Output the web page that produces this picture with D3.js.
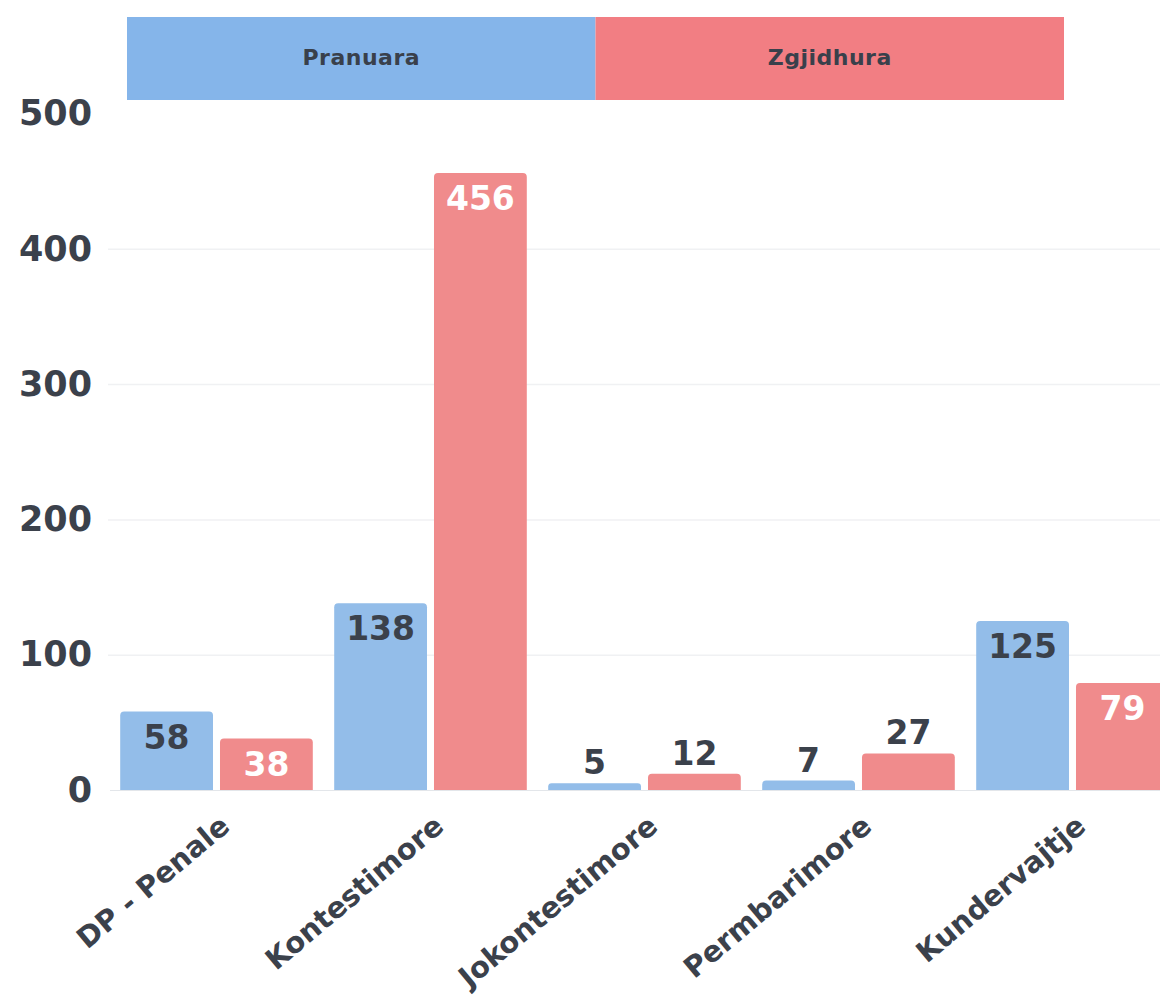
<!DOCTYPE html>
<html>
<head>
<meta charset="utf-8">
<script src="https://cdn.jsdelivr.net/npm/d3@7"></script>
<style>
  body { margin: 0; background: #fff; }
  svg { display: block; }
  text { font-family: "DejaVu Sans", sans-serif; }
</style>
</head>
<body>
<div id="chart"></div>
<script>
// data
var categories = ["DP - Penale", "Kontestimore", "Jokontestimore", "Permbarimore", "Kundervajtje"];
var seriesNames = ["Pranuara", "Zgjidhura"];
var pranuara = [58, 138, 5, 7, 125];
var zgjidhura = [38, 456, 12, 27, 79];
var yTicks = [0, 100, 200, 300, 400, 500];
var gridTicks = [100, 200, 300, 400];

var width = 1160, height = 1002;
var barColor = {Pranuara: "#93bde9", Zgjidhura: "#f08b8c"};
var legendColor = {Pranuara: "#85b5ea", Zgjidhura: "#f27e83"};
var textDark = "#3b414b";

var rows = categories.map((c, i) => ({cat: c, Pranuara: pranuara[i], Zgjidhura: zgjidhura[i]}));

var svg = d3.select("#chart").append("svg")
    .attr("width", width)
    .attr("height", height);

var y = d3.scaleLinear()
    .domain([0, 500])
    .range([790, 113.5]);

var x0 = d3.scaleBand()
    .domain(categories)
    .range([109.5, 1179.5])
    .paddingInner(0.1)
    .paddingOuter(0.05);

var x1 = d3.scaleBand()
    .domain(seriesNames)
    .range([0, x0.bandwidth()])
    .paddingInner(0.07);

// faint grid
svg.append("g")
    .attr("transform", "translate(108,0)")
    .call(d3.axisLeft(y).tickValues(gridTicks).tickSize(-(width - 108)).tickFormat(""))
    .call(g => g.select(".domain").remove())
    .call(g => g.selectAll("line").attr("stroke", "#f0f1f3").attr("stroke-width", 1.5));

// y labels
svg.append("g")
    .attr("transform", "translate(92,0)")
    .call(d3.axisLeft(y).tickValues(yTicks).tickSize(0).tickPadding(0))
    .call(g => g.select(".domain").remove())
    .call(g => g.selectAll("text")
        .attr("font-size", 35)
        .attr("font-weight", "bold")
        .attr("font-family", "DejaVu Sans, sans-serif")
        .attr("fill", textDark));

// baseline
svg.append("line")
    .attr("x1", 110).attr("x2", width)
    .attr("y1", y(0) + 0.5).attr("y2", y(0) + 0.5)
    .attr("stroke", "#e3e6ea");

// rounded-top bar path
function barPath(x, yTop, w, h) {
  var r = Math.min(4, h / 2);
  return `M${x},${yTop + h}V${yTop + r}Q${x},${yTop} ${x + r},${yTop}H${x + w - r}Q${x + w},${yTop} ${x + w},${yTop + r}V${yTop + h}Z`;
}

var groups = svg.append("g").selectAll("g")
  .data(rows)
  .join("g")
    .attr("transform", d => `translate(${x0(d.cat)},0)`);

var bars = groups.selectAll("g")
  .data(d => seriesNames.map(s => ({key: s, value: d[s]})))
  .join("g");

bars.append("path")
    .attr("d", d => barPath(x1(d.key), y(d.value), x1.bandwidth(), y(0) - y(d.value)))
    .attr("fill", d => barColor[d.key]);

bars.append("text")
    .attr("x", d => x1(d.key) + x1.bandwidth() / 2)
    .attr("y", d => {
      var h = y(0) - y(d.value);
      return h > 45 ? y(d.value) + 37 : y(d.value) - 9;
    })
    .attr("text-anchor", "middle")
    .attr("font-size", 33)
    .attr("font-weight", "bold")
    .attr("fill", d => (y(0) - y(d.value) > 45 && d.key == "Zgjidhura") ? "#fff" : textDark)
    .text(d => d.value);

// category labels
svg.append("g")
    .attr("transform", `translate(0,${y(0)})`)
    .call(d3.axisBottom(x0).tickSize(0))
    .call(g => g.select(".domain").remove())
    .call(g => g.selectAll("text")
        .attr("x", 0).attr("y", 0).attr("dy", 0)
        .attr("transform", "translate(15,39) rotate(-40)")
        .attr("text-anchor", "end")
        .attr("font-size", 29)
        .attr("font-weight", "bold")
        .attr("font-family", "DejaVu Sans, sans-serif")
        .attr("fill", textDark));

// legend on top
var legendX = d3.scaleBand()
    .domain(seriesNames)
    .range([127, 1064]);

var legend = svg.append("g").selectAll("g")
  .data(seriesNames)
  .join("g")
    .attr("transform", d => `translate(${legendX(d)},17)`);

legend.append("rect")
    .attr("width", legendX.bandwidth())
    .attr("height", 83)
    .attr("fill", d => legendColor[d]);

legend.append("text")
    .attr("x", legendX.bandwidth() / 2)
    .attr("y", 48)
    .attr("text-anchor", "middle")
    .attr("font-size", 22)
    .attr("font-weight", "bold")
    .attr("letter-spacing", 0.5)
    .attr("fill", "#39404b")
    .text(d => d);
</script>
</body>
</html>
